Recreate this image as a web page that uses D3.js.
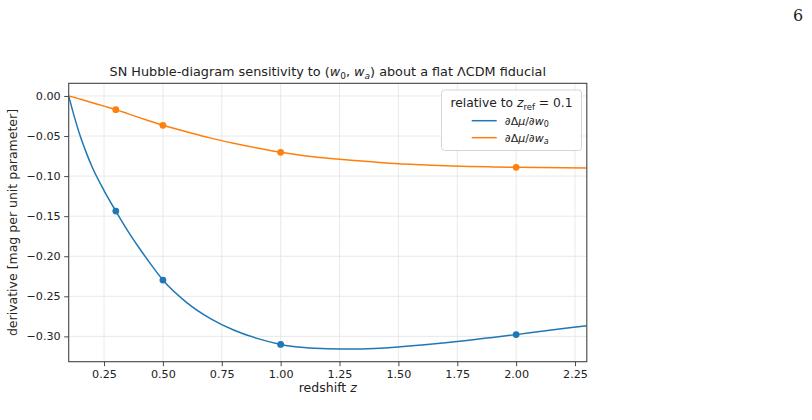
<!DOCTYPE html>
<html><head><meta charset="utf-8">
<script src="https://cdn.jsdelivr.net/npm/d3@7/dist/d3.min.js"></script>
<style>body{margin:0;background:#fff}svg{display:block}text{font-family:"DejaVu Sans",sans-serif;fill:#222}</style>
</head><body><svg id="c" width="812" height="420"></svg>
<script>
// curve samples
const zGrid = [0.1,0.125,0.15,0.175,0.2,0.25,0.3,0.35,0.4,0.45,0.5,0.6,0.7,0.8,0.9,1.0,1.1,1.2,1.3,1.4,1.5,1.6,1.7,1.8,1.9,2.0,2.1,2.2,2.3];
const dW0 = [0,-0.027,-0.051,-0.071,-0.089,-0.118,-0.1436,-0.168,-0.190,-0.2105,-0.2297,-0.2575,-0.2775,-0.2920,-0.3025,-0.3100,-0.3140,-0.3155,-0.3158,-0.3150,-0.3132,-0.3108,-0.3080,-0.3048,-0.3013,-0.2978,-0.2940,-0.2903,-0.2867];
const dWa = [0,-0.0020,-0.0041,-0.0062,-0.0084,-0.0127,-0.0171,-0.0220,-0.0270,-0.0318,-0.0366,-0.0446,-0.0523,-0.0590,-0.0650,-0.0703,-0.0745,-0.0776,-0.0802,-0.0825,-0.0845,-0.0858,-0.0870,-0.0879,-0.0885,-0.0890,-0.0894,-0.0897,-0.0899];
// marker redshifts and values
const zMark = [0.3,0.5,1.0,2.0];
const mW0 = [-0.1436,-0.2297,-0.3100,-0.2978];
const mWa = [-0.0171,-0.0366,-0.0703,-0.0890];
const xTicks = [0.25,0.5,0.75,1.0,1.25,1.5,1.75,2.0,2.25];
const yTicks = [0,-0.05,-0.10,-0.15,-0.20,-0.25,-0.30];
const colors = ["#1f77b4","#ff7f0e"];

const svg = d3.select("#c");
const L=68.7,R=586.8,T=83.3,B=361.7;
const all = dW0.concat(dWa);
const ymin=d3.min(all), ymax=d3.max(all), pad=(ymax-ymin)*0.05;
const x = d3.scaleLinear().domain([0.1,2.3]).range([L,R]);
const y = d3.scaleLinear().domain([ymin-pad,ymax+pad]).range([B,T]);
const fmt = d => d3.format(".2f")(d).replace("-","\u2212");

// grid
const g = svg.append("g");
g.selectAll(".gx").data(xTicks).join("line").attr("x1",d=>x(d)).attr("x2",d=>x(d)).attr("y1",T).attr("y2",B).attr("stroke","#e6e6e6").attr("stroke-width",0.9);
g.selectAll(".gy").data(yTicks).join("line").attr("y1",d=>y(d)).attr("y2",d=>y(d)).attr("x1",L).attr("x2",R).attr("stroke","#e6e6e6").attr("stroke-width",0.9);

// curves
const line = d3.line().x(d=>x(d[0])).y(d=>y(d[1])).curve(d3.curveMonotoneX);
svg.append("clipPath").attr("id","cp").append("rect").attr("x",L).attr("y",T).attr("width",R-L).attr("height",B-T);
const series = [dW0,dWa], marks=[mW0,mWa];
series.forEach((s,i)=>{
  svg.append("path").attr("clip-path","url(#cp)").datum(zGrid.map((z,j)=>[z,s[j]])).attr("d",line).attr("fill","none").attr("stroke",colors[i]).attr("stroke-width",1.5);
  svg.append("g").selectAll("circle").data(zMark.map((z,j)=>[z,marks[i][j]])).join("circle").attr("cx",d=>x(d[0])).attr("cy",d=>y(d[1])).attr("r",3.4).attr("fill",colors[i]);
});

// axes
const xa = svg.append("g").attr("transform",`translate(0,${B})`).call(d3.axisBottom(x).tickValues(xTicks).tickFormat(fmt).tickSize(4.5).tickPadding(3.5));
const ya = svg.append("g").attr("transform",`translate(${L},0)`).call(d3.axisLeft(y).tickValues(yTicks).tickFormat(fmt).tickSize(4.5).tickPadding(3.5));
[xa,ya].forEach(a=>{a.select(".domain").remove();a.selectAll("line").attr("stroke","#333").attr("stroke-width",0.9);a.selectAll("text").attr("font-size",11.2).attr("font-family","DejaVu Sans").attr("fill","#222");});
svg.append("rect").attr("x",L).attr("y",T).attr("width",R-L).attr("height",B-T).attr("fill","none").attr("stroke","#444").attr("stroke-width",1.1);

// title
const tt = svg.append("text").attr("x",(L+R)/2).attr("y",76).attr("text-anchor","middle").attr("font-size",12.8);
tt.append("tspan").text("SN Hubble-diagram sensitivity to (");
tt.append("tspan").attr("font-style","italic").text("w");
tt.append("tspan").attr("font-size",9).attr("dy",2.8).text("0");
tt.append("tspan").attr("dy",-2.8).text(", ");
tt.append("tspan").attr("font-style","italic").text("w");
tt.append("tspan").attr("font-size",9).attr("font-style","italic").attr("dy",2.8).text("a");
tt.append("tspan").attr("dy",-2.8).text(") about a flat \u039BCDM fiducial");

// axis labels
const xl = svg.append("text").attr("x",(L+R)/2).attr("y",392).attr("text-anchor","middle").attr("font-size",12.5);
xl.append("tspan").text("redshift ");
xl.append("tspan").attr("font-style","italic").text("z");
svg.append("text").attr("transform",`translate(17,${(T+B)/2}) rotate(-90)`).attr("text-anchor","middle").attr("font-size",12.5).text("derivative [mag per unit parameter]");

// legend
const lg = svg.append("g");
lg.append("rect").attr("x",441.5).attr("y",90).attr("width",140).attr("height",60.5).attr("rx",3).attr("fill","#fff").attr("fill-opacity",0.85).attr("stroke","#d0d0d0").attr("stroke-width",0.9);
const lt = lg.append("text").attr("x",511.5).attr("y",107).attr("text-anchor","middle").attr("font-size",12.3);
lt.append("tspan").text("relative to ");
lt.append("tspan").attr("font-style","italic").text("z");
lt.append("tspan").attr("font-size",8.5).attr("dy",3).text("ref");
lt.append("tspan").attr("dy",-3).text(" = 0.1");
const labs=[["0",false],["a",true]];
labs.forEach((lb,i)=>{
  const yy = 120.7 + i*17;
  lg.append("line").attr("x1",471.7).attr("x2",496.7).attr("y1",yy).attr("y2",yy).attr("stroke",colors[i]).attr("stroke-width",1.5);
  const t = lg.append("text").attr("x",505).attr("y",yy+4).attr("font-size",11);
  t.append("tspan").text("\u2202\u0394");
  t.append("tspan").attr("font-style","italic").text("\u03BC");
  t.append("tspan").text("/\u2202");
  t.append("tspan").attr("font-style","italic").text("w");
  t.append("tspan").attr("font-size",8).attr("font-style",lb[1]?"italic":"normal").attr("dy",2.5).text(lb[0]);
});

// page number
svg.append("text").attr("x",798).attr("y",21).attr("text-anchor","middle").attr("style","font-family:'DejaVu Serif',serif").attr("font-size",16).text("6");
</script></body></html>
